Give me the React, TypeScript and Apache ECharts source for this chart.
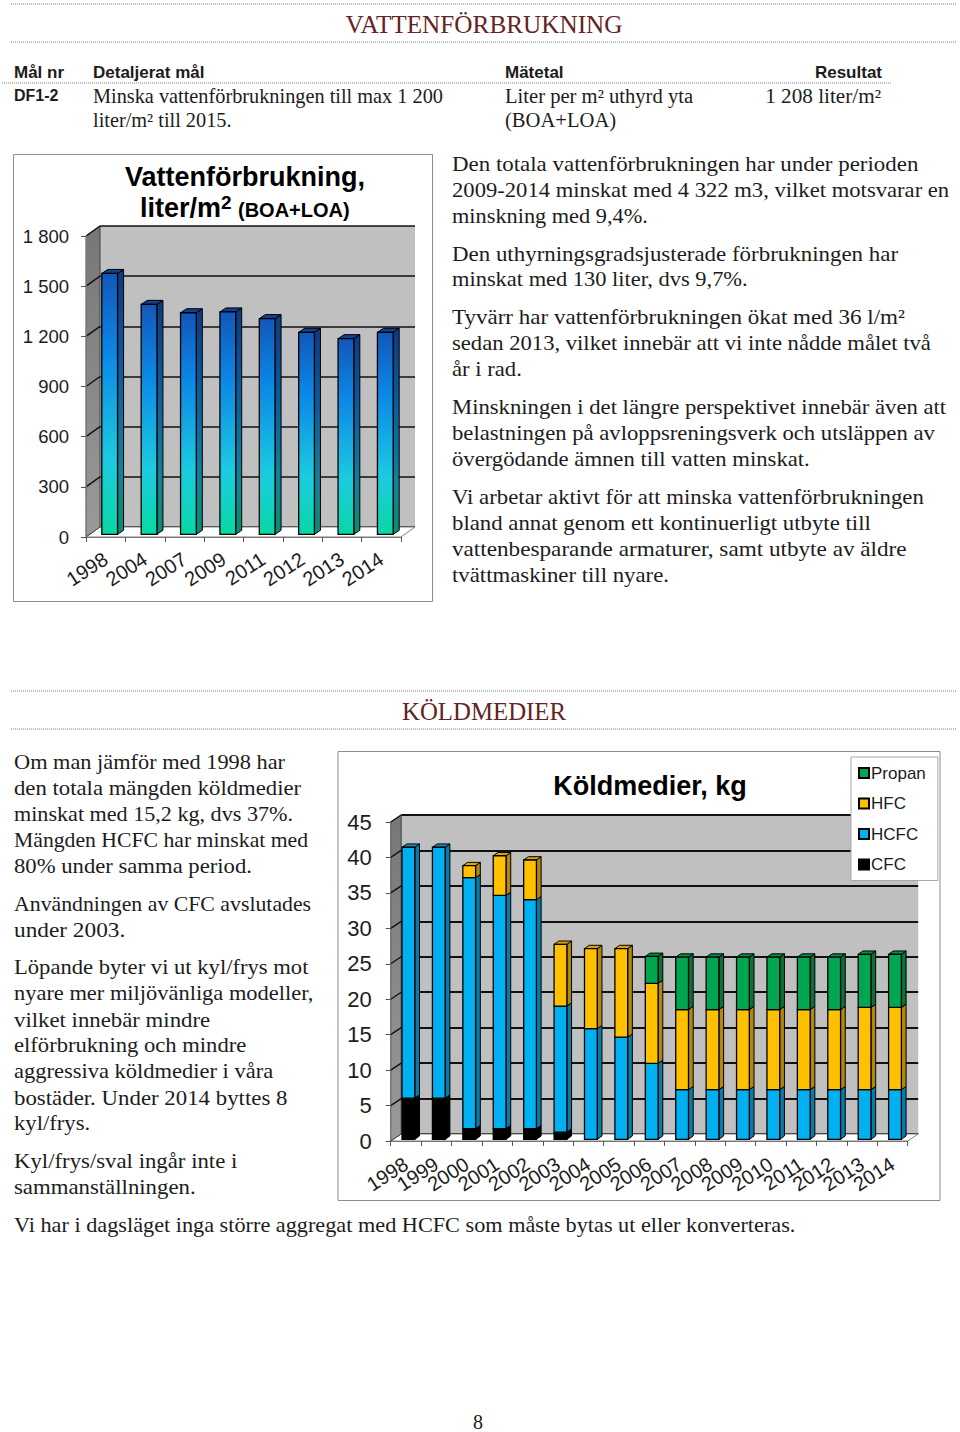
import React, { useEffect, useRef } from "react";
import * as echarts from "echarts";

// ---- chart data
const waterYears = ["1998", "2004", "2007", "2009", "2011", "2012", "2013", "2014"];
const waterValues = [1560, 1375, 1325, 1330, 1290, 1208, 1170, 1208];

const coolYears = ["1998", "1999", "2000", "2001", "2002", "2003", "2004", "2005", "2006", "2007", "2008", "2009", "2010", "2011", "2012", "2013", "2014"];
const cfc = [5.8, 5.8, 1.5, 1.5, 1.5, 1.0, 0, 0, 0, 0, 0, 0, 0, 0, 0, 0, 0];
const hcfc = [35.4, 35.4, 35.4, 32.9, 32.3, 17.8, 15.6, 14.4, 10.7, 7, 7, 7, 7, 7, 7, 7, 7];
const hfc = [0, 0, 1.7, 5.6, 5.6, 8.7, 11.3, 12.5, 11.3, 11.3, 11.3, 11.3, 11.3, 11.3, 11.3, 11.6, 11.6];
const propan = [0, 0, 0, 0, 0, 0, 0, 0, 3.8, 7.4, 7.4, 7.4, 7.4, 7.4, 7.4, 7.5, 7.5];

// ---- page text
const waterText = [
  ["Den totala vattenförbrukningen har under perioden", "2009-2014 minskat med 4 322 m3, vilket motsvarar en", "minskning med 9,4%."],
  ["Den uthyrningsgradsjusterade förbrukningen har", "minskat med 130 liter, dvs 9,7%."],
  ["Tyvärr har vattenförbrukningen ökat med 36 l/m²", "sedan 2013, vilket innebär att vi inte nådde målet två", "år i rad."],
  ["Minskningen i det längre perspektivet innebär även att", "belastningen på avloppsreningsverk och utsläppen av", "övergödande ämnen till vatten minskat."],
  ["Vi arbetar aktivt för att minska vattenförbrukningen", "bland annat genom ett kontinuerligt utbyte till", "vattenbesparande armaturer, samt utbyte av äldre", "tvättmaskiner till nyare."],
];
const coolText = [
  ["Om man jämför med 1998 har", "den totala mängden köldmedier", "minskat med 15,2 kg, dvs 37%.", "Mängden HCFC har minskat med", "80% under samma period."],
  ["Användningen av CFC avslutades", "under 2003."],
  ["Löpande byter vi ut kyl/frys mot", "nyare mer miljövänliga modeller,", "vilket innebär mindre", "elförbrukning och mindre", "aggressiva köldmedier i våra", "bostäder. Under 2014 byttes 8", "kyl/frys."],
  ["Kyl/frys/sval ingår inte i", "sammanställningen."],
];
const footLine = "Vi har i dagsläget inga större aggregat med HCFC som måste bytas ut eller konverteras.";

// horizontal fit of each line, since the original serif is not installed
const waterFit = [
  [1.092, 1.078, 1.063],
  [1.092, 1.069],
  [1.097, 1.078, 1.08],
  [1.08, 1.08, 1.08],
  [1.085, 1.085, 1.104, 1.085],
];
const coolFit = [
  [1.064, 1.083, 1.054, 1.034, 1.08],
  [1.038, 1.11],
  [1.077, 1.069, 1.085, 1.077, 1.072, 1.088, 1.08],
  [1.085, 1.085],
];

const SERIF = "Liberation Serif";
const SANS = "Liberation Sans";
const INK = "#1c1c1c";

function txt(text: string, x: number, y: number, font: string, extra: any = {}, scaleX = 1) {
  return {
    type: "text",
    z: 30,
    x,
    y,
    scaleX,
    style: { text, x: 0, y: 0, font, fill: INK, textVerticalAlign: "middle", textAlign: "left", ...extra },
  };
}
function dotted(x1: number, x2: number, y: number) {
  return { type: "line", z: 30, shape: { x1, y1: y, x2, y2: y }, style: { stroke: "#808080", lineWidth: 1, lineDash: [1, 1] } };
}
function frame(x: number, y: number, width: number, height: number) {
  return { type: "rect", z: -10, shape: { x, y, width, height }, style: { fill: "#fff", stroke: "#8c8c8c", lineWidth: 1 } };
}
function block(paras: string[][], fit: number[][], x: number, y0: number, lh: number, gap: number, font: string) {
  const out: any[] = [];
  let y = y0;
  paras.forEach((p, i) => {
    p.forEach((l, j) => {
      out.push(txt(l, x, y, font, {}, fit[i][j]));
      y += lh;
    });
    y += gap;
  });
  return out;
}

function wallItem(dx: number, dy: number, count: number, ymax: number, step: number) {
  return (params: any, api: any) => {
    const band = api.size([1, 0])[0];
    const x0 = api.coord([0, 0])[0] - band / 2;
    const x1 = api.coord([count - 1, 0])[0] + band / 2;
    const y0 = api.coord([0, 0])[1];
    const yT = api.coord([0, ymax])[1];
    const kids: any[] = [
      {
        type: "polygon",
        shape: { points: [[x0, y0], [x1, y0], [x1 + dx, y0 - dy], [x0 + dx, y0 - dy]] },
        style: { fill: "#ffffff", stroke: "#808080", lineWidth: 1 },
      },
      {
        type: "polygon",
        shape: { points: [[x0, y0], [x0, yT], [x0 + dx, yT - dy], [x0 + dx, y0 - dy]] },
        style: {
          fill: new echarts.graphic.LinearGradient(0, 0, 0, 1, [
            { offset: 0, color: "#777777" },
            { offset: 1, color: "#9a9a9a" },
          ]),
          stroke: "#404040",
          lineWidth: 1,
        },
      },
    ];
    for (let v = step; v <= ymax; v += step) {
      const yy = api.coord([0, v])[1];
      kids.push({ type: "line", shape: { x1: x0, y1: yy, x2: x0 + dx, y2: yy - dy }, style: { stroke: "#111", lineWidth: 1.4 } });
    }
    return { type: "group", children: kids };
  };
}

function box(api: any, lo: number, hi: number, idx: number, wFrac: number, ox: number, oy: number, dx: number, dy: number, front: any, side: any, top: any) {
  const band = api.size([1, 0])[0];
  const w = band * wFrac;
  const c = api.coord([idx, lo]);
  const t = api.coord([idx, hi]);
  const l = c[0] + ox - w / 2;
  const r = l + w;
  const b = c[1] - oy;
  const u = t[1] - oy;
  return [
    { type: "polygon", shape: { points: [[r, b], [r, u], [r + dx, u - dy], [r + dx, b - dy]] }, style: { fill: side, stroke: "#000", lineWidth: 1 } },
    { type: "polygon", shape: { points: [[l, u], [r, u], [r + dx, u - dy], [l + dx, u - dy]] }, style: { fill: top, stroke: "#000", lineWidth: 1 } },
    { type: "rect", shape: { x: l, y: u, width: w, height: b - u }, style: { fill: front, stroke: "#000", lineWidth: 1.3 } },
  ];
}

const waterFront = new echarts.graphic.LinearGradient(0, 0, 0, 1, [
  { offset: 0, color: "#1158b8" },
  { offset: 0.3, color: "#0c86e6" },
  { offset: 0.72, color: "#1ccbe0" },
  { offset: 1, color: "#08d8a4" },
]);
const waterSide = new echarts.graphic.LinearGradient(0, 0, 0, 1, [
  { offset: 0, color: "#0d3a80" },
  { offset: 0.35, color: "#0a5a9c" },
  { offset: 0.75, color: "#14809a" },
  { offset: 1, color: "#0a8c70" },
]);

const coolColors: Record<string, string[]> = {
  CFC: ["#000000", "#000000", "#000000"],
  HCFC: ["#00b0f0", "#0a7ba8", "#1090c8"],
  HFC: ["#ffc000", "#b08810", "#d8a408"],
  Propan: ["#00a650", "#0c7038", "#0a8c44"],
};

function coolSeries(name: string, vals: number[], below: number[][]) {
  const data = vals.map((v, i) => {
    const base = below.reduce((s, arr) => s + arr[i], 0);
    return [i, base, base + v];
  });
  const [f, s, t] = coolColors[name];
  return {
    name,
    type: "custom",
    xAxisIndex: 3,
    yAxisIndex: 3,
    z: 6,
    itemStyle: { color: f, borderColor: "#000", borderWidth: 1 },
    encode: { x: 0, y: [1, 2] },
    renderItem: (p: any, api: any) => {
      const lo = api.value(1);
      const hi = api.value(2);
      if (hi - lo <= 0) return { type: "group", children: [] };
      return { type: "group", children: box(api, lo, hi, api.value(0), 0.42, 2.5, 1.7, 4.7, 3.3, f, s, t) };
    },
    data,
  };
}

const yFmt = (v: number) => (v >= 1000 ? `${Math.floor(v / 1000)} ${String(v % 1000).padStart(3, "0")}` : String(v));

function buildOption() {
  const backAxis = (gridIndex: number, data: string[]) => ({
    type: "category",
    gridIndex,
    data,
    show: false,
  });
  const backY = (gridIndex: number, max: number, interval: number, width: number) => ({
    type: "value",
    gridIndex,
    min: 0,
    max,
    interval,
    axisLabel: { show: false },
    axisLine: { show: false },
    axisTick: { show: false },
    splitLine: { show: true, lineStyle: { color: "#111", width } },
  });
  const frontX = (gridIndex: number, data: string[], size: number, rotate: number, margin: number) => ({
    type: "category",
    gridIndex,
    data,
    z: 5,
    axisLine: { show: true, lineStyle: { color: "#777", width: 1 } },
    axisTick: { show: true, length: 5, lineStyle: { color: "#555" } },
    axisLabel: { interval: 0, rotate, fontFamily: SANS, fontSize: size, color: INK, margin },
  });
  const frontY = (gridIndex: number, max: number, interval: number, size: number, margin: number) => ({
    type: "value",
    gridIndex,
    min: 0,
    max,
    interval,
    z: 5,
    axisLine: { show: true, lineStyle: { color: "#777", width: 1 } },
    axisTick: { show: true, length: 5, lineStyle: { color: "#555" } },
    splitLine: { show: false },
    axisLabel: { fontFamily: SANS, fontSize: size, color: INK, margin, formatter: yFmt },
  });

  const bodyFont = `21px '${SERIF}'`;
  const headFont = `20px '${SERIF}'`;
  const boldSmall = `bold 17px '${SANS}'`;
  const graphicEls: any[] = [
    frame(13.5, 154.5, 419, 447),
    frame(338, 751.5, 602, 449),
    dotted(11, 956, 4),
    dotted(11, 956, 42),
    dotted(2, 892, 83),
    dotted(11, 956, 691),
    dotted(11, 956, 729),
    txt("VATTENFÖRBRUKNING", 484, 24, `26px '${SERIF}'`, { textAlign: "center", fill: "#632423" }, 0.97),
    txt("KÖLDMEDIER", 484, 711, `26px '${SERIF}'`, { textAlign: "center", fill: "#632423" }, 0.955),
    txt("Mål nr", 14, 72, boldSmall),
    txt("Detaljerat mål", 93, 72, boldSmall),
    txt("Mätetal", 505, 72, boldSmall),
    txt("Resultat", 882, 72, boldSmall, { textAlign: "right" }),
    txt("DF1-2", 14, 95, boldSmall, {}, 0.94),
    txt("Minska vattenförbrukningen till max 1 200", 93, 96, headFont, {}, 1.015),
    txt("liter/m² till 2015.", 93, 120, headFont, {}, 1.015),
    txt("Liter per m² uthyrd yta", 505, 96, headFont, {}, 1.03),
    txt("(BOA+LOA)", 505, 120, headFont, {}, 1.03),
    txt("1 208 liter/m²", 881, 96, headFont, { textAlign: "right" }, 1.06),
    txt("Vattenförbrukning,", 245, 177, `bold 27px '${SANS}'`, { textAlign: "center", fill: "#000" }),
    txt("liter/m", 140, 208, `bold 27px '${SANS}'`, { fill: "#000" }),
    txt("2", 221, 202, `bold 19px '${SANS}'`, { fill: "#000" }),
    txt("(BOA+LOA)", 238, 210, `bold 20px '${SANS}'`, { fill: "#000" }),
    txt("Köldmedier, kg", 650, 786, `bold 27px '${SANS}'`, { textAlign: "center", fill: "#000" }),
    ...block(waterText, waterFit, 452, 164, 26, 11.6, bodyFont),
    ...block(coolText, coolFit, 14, 762, 26, 11.7, bodyFont),
    txt(footLine, 14, 1225, bodyFont, {}, 1.06),
    txt("8", 478, 1422, `20px '${SERIF}'`, { textAlign: "center" }),
  ];

  const below: number[][] = [];
  const cfcS = coolSeries("CFC", cfc, []);
  below.push(cfc);
  const hcfcS = coolSeries("HCFC", hcfc, [...below]);
  below.push(hcfc);
  const hfcS = coolSeries("HFC", hfc, [...below]);
  below.push(hfc);
  const propS = coolSeries("Propan", propan, [...below]);

  return {
    animation: false,
    backgroundColor: "#ffffff",
    graphic: { elements: graphicEls },
    legend: {
      data: ["Propan", "HFC", "HCFC", "CFC"],
      orient: "vertical",
      left: 851,
      top: 757,
      z: 20,
      padding: [6, 8, 6, 7],
      itemGap: 10.5,
      itemWidth: 10,
      itemHeight: 10,
      icon: "rect",
      backgroundColor: "#fff",
      borderColor: "#a8a8a8",
      borderWidth: 1,
      selectedMode: false,
      textStyle: { fontFamily: SANS, fontSize: 17, color: INK, padding: [0, 4, 0, -3], height: 20, lineHeight: 20 },
    },
    grid: [
      { left: 100, top: 226, width: 315, height: 301, show: true, backgroundColor: "#c0c0c0", borderWidth: 0 },
      { left: 86, top: 236, width: 315, height: 301 },
      { left: 401.2, top: 815, width: 517, height: 319, show: true, backgroundColor: "#c0c0c0", borderWidth: 0 },
      { left: 390.7, top: 822, width: 517, height: 319 },
    ],
    xAxis: [backAxis(0, waterYears), frontX(1, waterYears, 20, 33, 20), backAxis(2, coolYears), frontX(3, coolYears, 20, 33, 21)],
    yAxis: [backY(0, 1800, 300, 1.6), frontY(1, 1800, 300, 18.5, 17), backY(2, 45, 5, 1.9), frontY(3, 45, 5, 22, 19)],
    series: [
      {
        name: "wall1",
        type: "custom",
        xAxisIndex: 1,
        yAxisIndex: 1,
        z: 2,
        renderItem: wallItem(14, 10, waterYears.length, 1800, 300),
        data: [[0, 0]],
      },
      {
        name: "wall2",
        type: "custom",
        xAxisIndex: 3,
        yAxisIndex: 3,
        z: 2,
        renderItem: wallItem(10.5, 7, coolYears.length, 45, 5),
        data: [[0, 0]],
      },
      {
        name: "Vattenförbrukning",
        type: "custom",
        xAxisIndex: 1,
        yAxisIndex: 1,
        z: 6,
        encode: { x: 0, y: 1 },
        renderItem: (p: any, api: any) => ({
          type: "group",
          children: box(api, 0, api.value(1), api.value(0), 0.4, 4, 2.7, 6, 4, waterFront, waterSide, "#123f8e"),
        }),
        data: waterValues.map((v, i) => [i, v]),
      },
      cfcS,
      hcfcS,
      hfcS,
      propS,
    ],
  };
}

export default function App() {
  const ref = useRef<HTMLDivElement>(null);
  useEffect(() => {
    const chart = echarts.init(ref.current!, null, { renderer: "svg" });
    chart.setOption(buildOption() as any);
    return () => chart.dispose();
  }, []);
  return <div ref={ref} style={{ position: "absolute", left: 0, top: 0, width: 960, height: 1432 }} />;
}
